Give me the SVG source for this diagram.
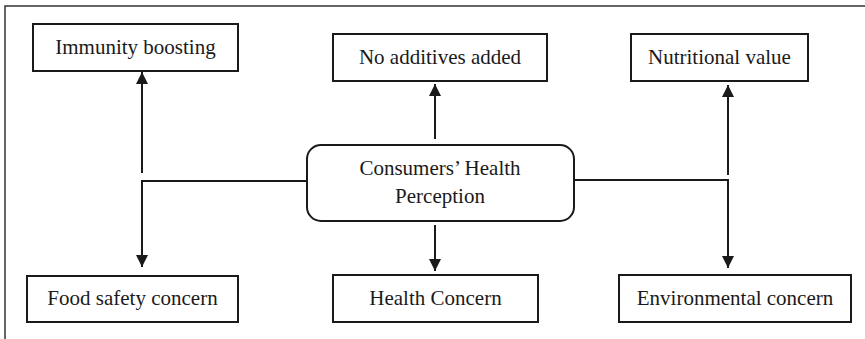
<svg xmlns="http://www.w3.org/2000/svg" width="865" height="339" viewBox="0 0 865 339">
<style>
.box{fill:#fff;stroke:#1a1a1a;stroke-width:2}
.lbl{font-family:"Liberation Serif","Times New Roman",serif;font-size:21px;fill:#1a1a1a;text-anchor:middle}
.con{fill:none;stroke:#1a1a1a;stroke-width:2}
.frame{fill:none;stroke:#333;stroke-width:1.5}
</style>
<defs>
<marker id="ah" markerUnits="userSpaceOnUse" markerWidth="12" markerHeight="12" refX="12" refY="6" orient="auto" viewBox="0 0 12 12">
<path d="M0,0 L12,6 L0,12 z" fill="#1a1a1a"/>
</marker>
</defs>
<path class="frame" d="M865,6 H5 V339"/>
<g id="connectors">
<path class="con" d="M142,173 V72" marker-end="url(#ah)"/>
<path class="con" d="M307,181 H142 V267" marker-end="url(#ah)"/>
<path class="con" d="M435,139 V84" marker-end="url(#ah)"/>
<path class="con" d="M435,225 V271" marker-end="url(#ah)"/>
<path class="con" d="M728,175 V85" marker-end="url(#ah)"/>
<path class="con" d="M574,180 H728 V268" marker-end="url(#ah)"/>
</g>
<g id="center">
<rect class="box" x="307" y="145" width="267" height="76" rx="14"/>
<text class="lbl" x="440" y="175">Consumers’ Health</text>
<text class="lbl" x="440" y="203">Perception</text>
</g>
<g id="immunity">
<rect class="box" x="33" y="24" width="205" height="47"/>
<text class="lbl" x="135.5" y="54">Immunity boosting</text>
</g>
<g id="additives">
<rect class="box" x="333" y="34" width="214" height="47"/>
<text class="lbl" x="440" y="64">No additives added</text>
</g>
<g id="nutritional">
<rect class="box" x="631" y="34" width="177" height="47"/>
<text class="lbl" x="719.5" y="64">Nutritional value</text>
</g>
<g id="foodsafety">
<rect class="box" x="27" y="276" width="211" height="46"/>
<text class="lbl" x="132.5" y="305">Food safety concern</text>
</g>
<g id="health">
<rect class="box" x="333" y="275" width="205" height="47"/>
<text class="lbl" x="435.5" y="305">Health Concern</text>
</g>
<g id="environmental">
<rect class="box" x="619" y="275" width="232" height="47"/>
<text class="lbl" x="735" y="305">Environmental concern</text>
</g>
</svg>
